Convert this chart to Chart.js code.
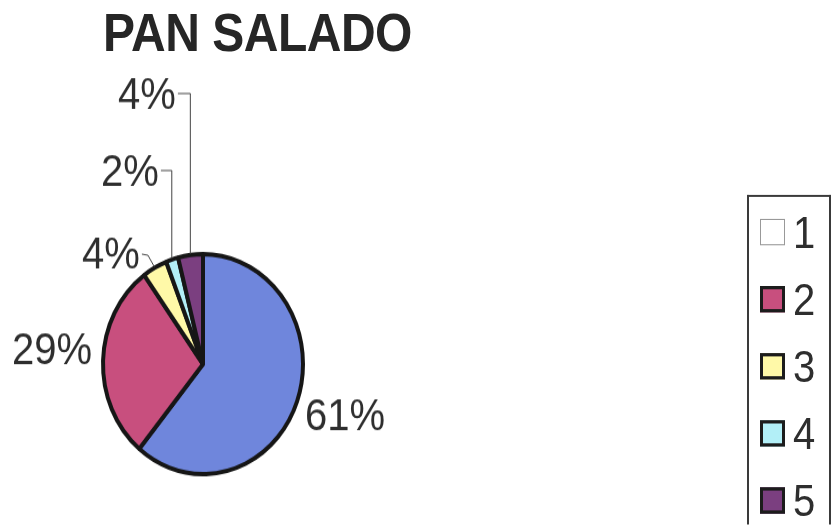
<!DOCTYPE html>
<html>
<head>
<meta charset="utf-8">
<title>PAN SALADO</title>
<script src="https://cdn.jsdelivr.net/npm/chart.js@4/dist/chart.umd.min.js"></script>
<style>
  html, body { margin: 0; background: #fff; }
  body { width: 834px; height: 525px; position: relative; overflow: hidden; }
  /* the whole sheet is printed slightly taller than wide */
  #sheet {
    position: absolute; left: 0; top: 0; width: 834px; height: 477px;
    transform: scaleY(1.1); transform-origin: 0 0;
    font-family: "Liberation Sans", Arial, sans-serif; color: #2e2e2e;
  }
  #pie { position: absolute; left: 0; top: 0; }
  #title {
    position: absolute; left: 0; width: 515px; top: 6px; margin: 0;
    text-align: center; font-size: 48px; font-weight: bold; line-height: 48px;
    color: #262626; letter-spacing: -0.5px;
  }
  #legend {
    position: absolute; left: 747px; top: 177px; width: 84px; height: 300px;
    border: 2px solid #3a3a3a; border-bottom: none; box-sizing: border-box;
  }
  .item { position: absolute; left: 11px; height: 40px; display: flex; align-items: center; }
  .swatch { width: 25px; height: 24px; box-sizing: border-box; border: 3px solid #1c1c1c; }
  .item span { font-size: 40px; line-height: 40px; margin-left: 8px; }
</style>
</head>
<body>
<div id="sheet">
  <h1 id="title">PAN SALADO</h1>
  <canvas id="pie" width="834" height="477"></canvas>
  <div id="legend"></div>
</div>
<script>
const categories = ["1", "2", "3", "4", "5"];
const values = [61, 29, 4, 2, 4];
const sliceColors = ["#6f86dc", "#c84f7e", "#fff9a8", "#b2eff7", "#7b3f80"];
const legendColors = ["#ffffff", "#c84f7e", "#fff9a8", "#b2eff7", "#7b3f80"];

// where each percentage sits, relative to the pie centre, and how it is tied to its slice
const labelSpots = [
  { dx: 142, dy: 49, lead: null },
  { dx: -151, dy: -11, lead: null },
  { dx: -92, dy: -98, lead: "hook" },
  { dx: -73, dy: -173, lead: "elbow" },
  { dx: -56, dy: -243, lead: "elbow" }
];

const total = values.reduce((a, b) => a + b, 0);

const sliceLabels = {
  id: "sliceLabels",
  afterDatasetsDraw(chart) {
    const ctx = chart.ctx;
    const arcs = chart.getDatasetMeta(0).data;
    ctx.save();
    ctx.font = '40px "Liberation Sans", Arial, sans-serif';
    ctx.fillStyle = "#2e2e2e";
    ctx.strokeStyle = "#444";
    ctx.lineWidth = 1;
    ctx.textAlign = "center";
    ctx.textBaseline = "middle";
    arcs.forEach((arc, i) => {
      const p = arc.getProps(["x", "y", "startAngle", "endAngle", "outerRadius"], true);
      const spot = labelSpots[i];
      const text = Math.round(values[i] / total * 100) + "%";
      const tx = p.x + spot.dx, ty = p.y + spot.dy;
      ctx.fillText(text, tx, ty);
      if (!spot.lead) return;
      const mid = (p.startAngle + p.endAngle) / 2;
      const ex = p.x + Math.cos(mid) * (p.outerRadius + 1);
      const ey = p.y + Math.sin(mid) * (p.outerRadius + 1);
      const right = tx + ctx.measureText(text).width / 2 + 2;
      ctx.beginPath();
      if (spot.lead === "elbow") {
        ctx.moveTo(right, ty - 3);
        ctx.lineTo(ex, ty - 3);
        ctx.lineTo(ex, ey);
      } else {
        ctx.moveTo(right, ty - 2);
        ctx.lineTo(right + 6, ty - 1);
        ctx.lineTo(ex, ey);
      }
      ctx.stroke();
    });
    ctx.restore();
  }
};

new Chart(document.getElementById("pie"), {
  type: "pie",
  data: {
    labels: categories,
    datasets: [{
      data: values,
      backgroundColor: sliceColors,
      borderColor: "#161616",
      borderWidth: 4
    }]
  },
  options: {
    responsive: false,
    animation: false,
    layout: { padding: { left: 101, right: 529, top: 229, bottom: 44 } },
    plugins: {
      legend: { display: false },
      tooltip: { enabled: false }
    }
  },
  plugins: [sliceLabels]
});

// legend box on the right
const legend = document.getElementById("legend");
categories.forEach((name, i) => {
  const row = document.createElement("div");
  row.className = "item";
  row.style.top = (1 + 61 * i + 11) + "px";
  const sw = document.createElement("div");
  sw.className = "swatch";
  sw.style.background = legendColors[i];
  if (i === 0) sw.style.border = "1px solid #999";
  const label = document.createElement("span");
  label.textContent = name;
  row.append(sw, label);
  legend.appendChild(row);
});
</script>
</body>
</html>
